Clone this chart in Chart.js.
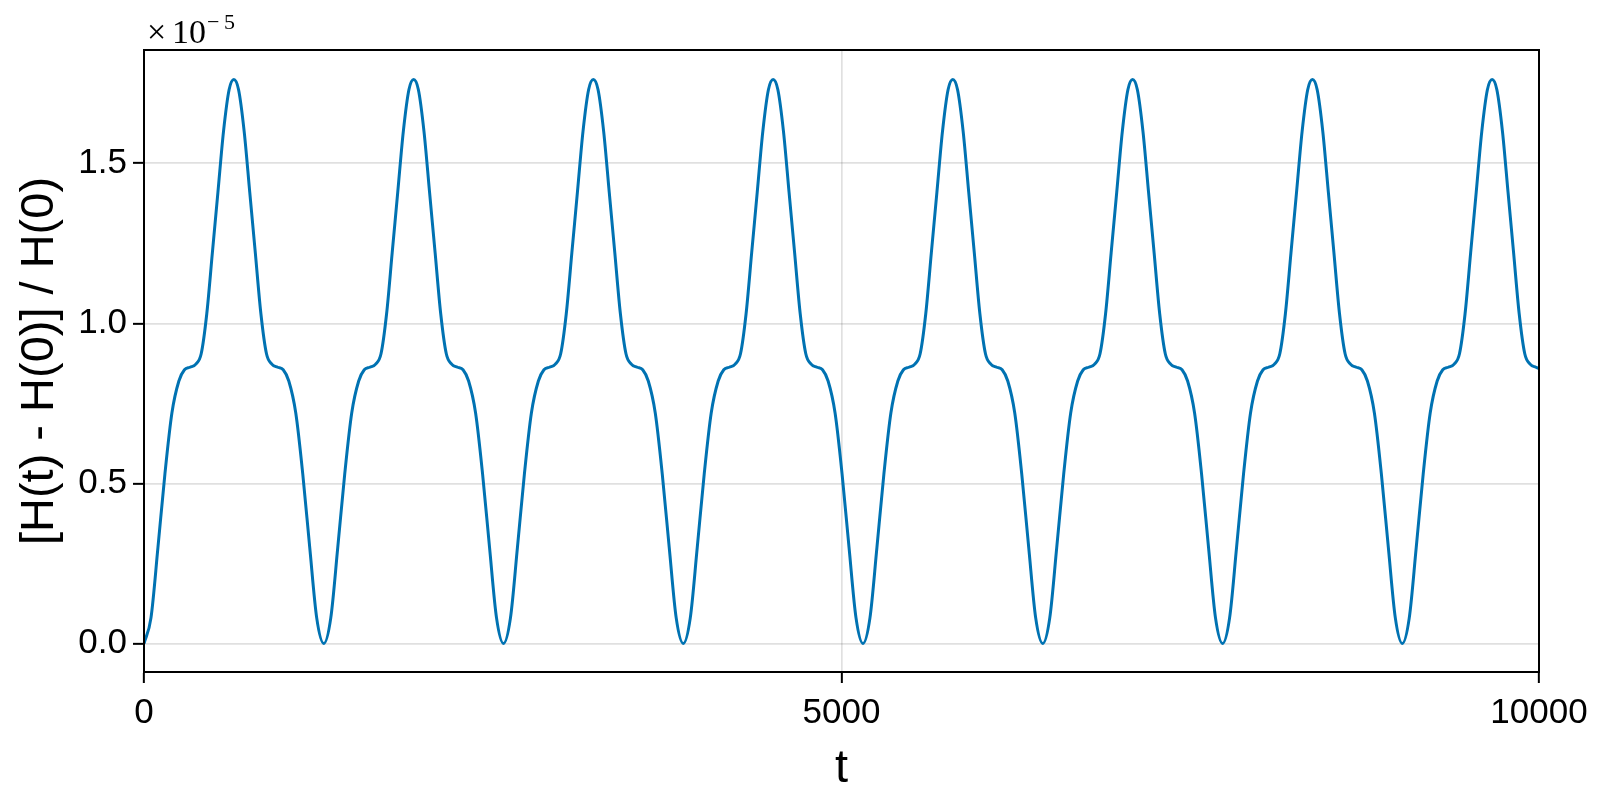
<!DOCTYPE html>
<html lang="en">
<head>
  <meta charset="UTF-8">
  <title>Relative energy error</title>
  <script src="https://cdn.jsdelivr.net/npm/chart.js"></script>
  <style>
    body { margin: 0; background: #fff; }
    #wrap { width: 1600px; height: 800px; }
  </style>
</head>
<body>
  <div id="wrap"><canvas id="energyChart" width="1600" height="800"></canvas></div>

  <script>
    // time samples, one line per cycle (minimum -> peak -> next minimum)
    const tValues = [
      0, 50, 100, 150, 200, 250, 290, 330, 370, 410, 450, 490, 530, 570, 610, 644, 678, 718, 758, 798, 838, 878, 918, 958, 998, 1038, 1088, 1138, 1188, 1238,
      1289, 1339, 1389, 1439, 1489, 1539, 1579, 1619, 1659, 1699, 1739, 1779, 1819, 1859, 1899, 1933, 1967, 2007, 2047, 2087, 2127, 2167, 2207, 2247, 2287, 2327, 2377, 2427, 2477, 2527,
      2577, 2627, 2677, 2727, 2777, 2827, 2867, 2907, 2947, 2987, 3027, 3067, 3107, 3147, 3187, 3221, 3255, 3295, 3335, 3375, 3415, 3455, 3495, 3535, 3575, 3615, 3665, 3715, 3765, 3815,
      3866, 3916, 3966, 4016, 4066, 4116, 4156, 4196, 4236, 4276, 4316, 4356, 4396, 4436, 4476, 4510, 4544, 4584, 4624, 4664, 4704, 4744, 4784, 4824, 4864, 4904, 4954, 5004, 5054, 5104,
      5154, 5204, 5254, 5304, 5354, 5404, 5444, 5484, 5524, 5564, 5604, 5644, 5684, 5724, 5764, 5798, 5832, 5872, 5912, 5952, 5992, 6032, 6072, 6112, 6152, 6192, 6242, 6292, 6342, 6392,
      6443, 6493, 6543, 6593, 6643, 6693, 6733, 6773, 6813, 6853, 6893, 6933, 6973, 7013, 7053, 7087, 7121, 7161, 7201, 7241, 7281, 7321, 7361, 7401, 7441, 7481, 7531, 7581, 7631, 7681,
      7732, 7782, 7832, 7882, 7932, 7982, 8022, 8062, 8102, 8142, 8182, 8222, 8262, 8302, 8342, 8376, 8410, 8450, 8490, 8530, 8570, 8610, 8650, 8690, 8730, 8770, 8820, 8870, 8920, 8970,
      9020, 9070, 9120, 9170, 9220, 9270, 9310, 9350, 9390, 9430, 9470, 9510, 9550, 9590, 9630, 9664, 9698, 9738, 9778, 9818, 9858, 9898, 9938, 9978, 10000
    ];

    // [H(t) - H(0)] / H(0) in units of 1e-5
    const relError = [
      0, 0.08, 0.30, 0.53, 0.72, 0.82, 0.855, 0.863, 0.872, 0.905, 1.03, 1.22, 1.41, 1.60, 1.73, 1.762, 1.73, 1.60, 1.41, 1.22, 1.03, 0.905, 0.872, 0.863, 0.855, 0.82, 0.72, 0.53, 0.30, 0.08,
      0, 0.08, 0.30, 0.53, 0.72, 0.82, 0.855, 0.863, 0.872, 0.905, 1.03, 1.22, 1.41, 1.60, 1.73, 1.762, 1.73, 1.60, 1.41, 1.22, 1.03, 0.905, 0.872, 0.863, 0.855, 0.82, 0.72, 0.53, 0.30, 0.08,
      0, 0.08, 0.30, 0.53, 0.72, 0.82, 0.855, 0.863, 0.872, 0.905, 1.03, 1.22, 1.41, 1.60, 1.73, 1.762, 1.73, 1.60, 1.41, 1.22, 1.03, 0.905, 0.872, 0.863, 0.855, 0.82, 0.72, 0.53, 0.30, 0.08,
      0, 0.08, 0.30, 0.53, 0.72, 0.82, 0.855, 0.863, 0.872, 0.905, 1.03, 1.22, 1.41, 1.60, 1.73, 1.762, 1.73, 1.60, 1.41, 1.22, 1.03, 0.905, 0.872, 0.863, 0.855, 0.82, 0.72, 0.53, 0.30, 0.08,
      0, 0.08, 0.30, 0.53, 0.72, 0.82, 0.855, 0.863, 0.872, 0.905, 1.03, 1.22, 1.41, 1.60, 1.73, 1.762, 1.73, 1.60, 1.41, 1.22, 1.03, 0.905, 0.872, 0.863, 0.855, 0.82, 0.72, 0.53, 0.30, 0.08,
      0, 0.08, 0.30, 0.53, 0.72, 0.82, 0.855, 0.863, 0.872, 0.905, 1.03, 1.22, 1.41, 1.60, 1.73, 1.762, 1.73, 1.60, 1.41, 1.22, 1.03, 0.905, 0.872, 0.863, 0.855, 0.82, 0.72, 0.53, 0.30, 0.08,
      0, 0.08, 0.30, 0.53, 0.72, 0.82, 0.855, 0.863, 0.872, 0.905, 1.03, 1.22, 1.41, 1.60, 1.73, 1.762, 1.73, 1.60, 1.41, 1.22, 1.03, 0.905, 0.872, 0.863, 0.855, 0.82, 0.72, 0.53, 0.30, 0.08,
      0, 0.08, 0.30, 0.53, 0.72, 0.82, 0.855, 0.863, 0.872, 0.905, 1.03, 1.22, 1.41, 1.60, 1.73, 1.762, 1.73, 1.60, 1.41, 1.22, 1.03, 0.905, 0.872, 0.863, 0.859
    ];

    const xTicks = [0, 5000, 10000];
    const yTicks = [0, 0.5, 1.0, 1.5];
    const xTitle = 't';
    const yTitle = '[H(t) - H(0)] / H(0)';

    const lineColor = 'rgb(0, 114, 178)';
    const gridColor = 'rgba(0, 0, 0, 0.12)';
    const sans = '"Liberation Sans", Arial, sans-serif';
    const serif = '"Liberation Serif", "DejaVu Serif", serif';

    // frame on all four sides, axis titles and the x10^-5 multiplier
    const decorations = {
      id: 'decorations',
      afterDraw(chart) {
        const ctx = chart.ctx;
        const a = chart.chartArea;
        ctx.save();
        ctx.strokeStyle = '#000';
        ctx.lineWidth = 2;
        ctx.strokeRect(a.left, a.top, a.right - a.left, a.bottom - a.top);

        ctx.fillStyle = '#000';
        ctx.textBaseline = 'alphabetic';
        ctx.textAlign = 'center';
        ctx.font = '47px ' + sans;
        ctx.fillText(xTitle, (a.left + a.right) / 2, 782);

        ctx.save();
        ctx.translate(53, (a.top + a.bottom) / 2);
        ctx.rotate(-Math.PI / 2);
        ctx.fillText(yTitle, 0, 0);
        ctx.restore();

        // multiplier, set piece by piece to get the wide TeX spacing
        ctx.textAlign = 'left';
        ctx.font = '34px ' + serif;
        ctx.fillText('\u00d7', a.left + 3, 43);
        ctx.fillText('10', a.left + 28, 43);
        ctx.font = '22px ' + serif;
        ctx.fillText('\u2212', a.left + 63, 29);
        ctx.fillText('5', a.left + 80, 29);
        ctx.restore();
      }
    };

    const points = tValues.map((t, i) => ({ x: t, y: relError[i] }));

    const ctx = document.getElementById('energyChart').getContext('2d');
    new Chart(ctx, {
      type: 'line',
      data: {
        datasets: [{
          data: points,
          borderColor: lineColor,
          borderWidth: 3,
          pointRadius: 0,
          fill: false,
          cubicInterpolationMode: 'monotone'
        }]
      },
      options: {
        responsive: false,
        animation: false,
        devicePixelRatio: 1,
        layout: { padding: { top: 50, right: 61, left: 0, bottom: 0 } },
        plugins: {
          legend: { display: false },
          tooltip: { enabled: false }
        },
        scales: {
          x: {
            type: 'linear',
            min: 0,
            max: 10000,
            afterBuildTicks: (scale) => { scale.ticks = xTicks.map(v => ({ value: v })); },
            afterFit: (scale) => { scale.height = 128; },
            grid: { color: gridColor, lineWidth: 1.7, tickColor: '#000', tickLength: 11, tickWidth: 2 },
            border: { display: true, color: '#000', width: 2 },
            ticks: {
              color: '#000',
              padding: 9,
              maxRotation: 0,
              font: { family: sans, size: 35 },
              callback: (v) => String(v)
            }
          },
          y: {
            min: -0.089,
            max: 1.854,
            afterBuildTicks: (scale) => { scale.ticks = yTicks.map(v => ({ value: v })); },
            afterFit: (scale) => { scale.width = 144; },
            grid: { color: gridColor, lineWidth: 1.7, tickColor: '#000', tickLength: 11, tickWidth: 2 },
            border: { display: true, color: '#000', width: 2 },
            ticks: {
              color: '#000',
              padding: 6,
              font: { family: sans, size: 35 },
              callback: (v) => v.toFixed(1)
            }
          }
        }
      },
      plugins: [decorations]
    });
  </script>
</body>
</html>
